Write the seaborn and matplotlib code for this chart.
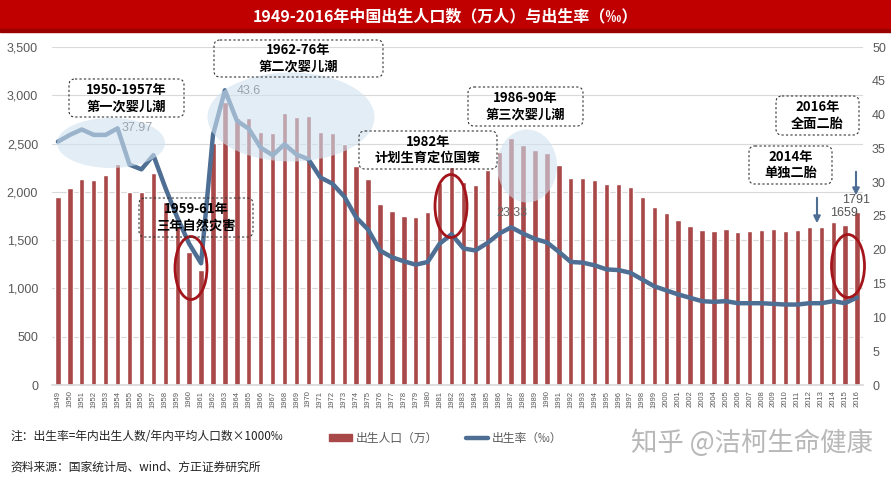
import numpy as np
import pandas as pd
import matplotlib
matplotlib.use("Agg")
import matplotlib.pyplot as plt
from matplotlib.patches import Ellipse, FancyBboxPatch, Rectangle, FancyArrowPatch
from matplotlib.transforms import Affine2D
from matplotlib.ticker import FuncFormatter
import seaborn as sns

# ---------------- data ----------------
years = list(range(1949, 2017))
births = [1950, 2043, 2130, 2123, 2175, 2285, 1998, 1998, 2195, 1900,
          1650, 1380, 1191, 2502, 2934, 2762, 2762, 2623, 2606, 2813,
          2772, 2786, 2616, 2606, 2495, 2268, 2137, 1874, 1805, 1750,
          1736, 1795, 2088, 2261, 2105, 2071, 2226, 2409, 2554, 2485,
          2433, 2406, 2278, 2140, 2147, 2123, 2078, 2078, 2050, 1950,
          1840, 1778, 1705, 1646, 1602, 1595, 1615, 1584, 1595, 1608,
          1612, 1595, 1605, 1636, 1636, 1688, 1659, 1791]
rates = [36.0, 37.0, 37.8, 37.0, 37.0, 37.97, 32.6, 31.9, 34.0, 29.2,
         24.8, 20.9, 18.0, 37.0, 43.6, 39.1, 37.9, 35.1, 34.0, 35.6,
         34.1, 33.4, 30.7, 29.8, 27.9, 24.8, 23.0, 19.9, 18.9, 18.3,
         17.8, 18.2, 20.9, 22.3, 20.2, 19.9, 21.0, 22.4, 23.33, 22.4,
         21.6, 21.1, 19.7, 18.2, 18.1, 17.7, 17.1, 17.0, 16.6, 15.6,
         14.6, 14.0, 13.4, 12.9, 12.4, 12.3, 12.4, 12.1, 12.1, 12.1,
         12.0, 11.9, 11.9, 12.1, 12.1, 12.4, 12.1, 12.95]
year_labels = [str(y) for y in years]
left_ticks = [0, 500, 1000, 1500, 2000, 2500, 3000, 3500]
right_ticks = [0, 5, 10, 15, 20, 25, 30, 35, 40, 45, 50]

title = "1949-2016年中国出生人口数（万人）与出生率（‰）"
bar_name = "出生人口（万）"
line_name = "出生率（‰）"
note = "注：出生率=年内出生人数/年内平均人口数×1000‰"
source = "资料来源：国家统计局、wind、方正证券研究所"
watermark = "知乎 @洁柯生命健康"

callouts = [
    ("1950-1957年\n第一次婴儿潮", (69, 79, 184, 117)),
    ("1962-76年\n第二次婴儿潮", (214, 40, 383, 77)),
    ("1959-61年\n三年自然灾害", (139, 198, 253, 237)),
    ("1982年\n计划生育定位国策", (359, 131, 497, 169)),
    ("1986-90年\n第三次婴儿潮", (468, 87, 583, 126)),
    ("2016年\n全面二胎", (776, 96, 859, 135)),
    ("2014年\n单独二胎", (749, 146, 832, 184)),
]

# ---------------- style ----------------
sns.set_theme(style="white")
plt.rcParams["font.family"] = ["Noto Sans CJK SC", "DejaVu Sans"]
plt.rcParams["axes.unicode_minus"] = False
NUMFONT = ["Liberation Sans", "DejaVu Sans"]

BAR = "#a94848"
LINE = "#4e6e94"
GRAY = "#595959"
W, H = 891, 484

fig = plt.figure(figsize=(W / 100, H / 100), dpi=100)
fig.patch.set_facecolor("white")

# pixel transform (origin top-left)
PX = Affine2D().scale(1 / W, -1 / H).translate(0, 1) + fig.transFigure

ax = fig.add_axes([52 / W, 1 - 385 / H, 811 / W, 338 / H])
df = pd.DataFrame({"year": year_labels, "births": births, "rate": rates})
sns.barplot(data=df, x="year", y="births", color=BAR, saturation=1,
            width=0.45, ax=ax, zorder=2)
ax.set_xlim(-0.5, len(years) - 0.5)
ax.set_ylim(0, 3500)
ax.set_yticks(left_ticks)
ax.yaxis.set_major_formatter(FuncFormatter(lambda v, p: f"{int(v):,}"))
ax.grid(axis="y", color="#d9d9d9", lw=0.8, zorder=0)
ax.set_axisbelow(True)
ax.tick_params(axis="y", labelsize=9, colors=GRAY, length=0, pad=10)
ax.tick_params(axis="x", labelsize=5.5, colors=GRAY, length=0, pad=4,
               labelrotation=90)
for lab in ax.get_yticklabels() + ax.get_xticklabels():
    lab.set_family(NUMFONT)
ax.set_xlabel("")
ax.set_ylabel("")
for s in ax.spines.values():
    s.set_visible(False)
ax.spines["bottom"].set_visible(True)
ax.spines["bottom"].set_color("#d9d9d9")

ax2 = ax.twinx()
sns.lineplot(x=np.arange(len(years)), y=rates, ax=ax2, color=LINE, lw=3.2,
             zorder=3)
ax2.set_ylim(0, 50)
ax2.set_yticks(right_ticks)
ax2.tick_params(axis="y", labelsize=9, colors=GRAY, length=0, pad=6.5)
for lab in ax2.get_yticklabels():
    lab.set_family(NUMFONT)
ax2.set_xlabel("")
ax2.set_ylabel("")
for s in ax2.spines.values():
    s.set_visible(False)

# ---------------- title bar ----------------
fig.add_artist(Rectangle((0, 0), W, 31, transform=PX, color="#c00000",
                         zorder=5))
fig.add_artist(Rectangle((0, 29), W, 3, transform=PX, color="#9a0000",
                         zorder=5))
fig.text(445 / W, 1 - 16 / H, title, color="white", fontsize=11.5,
         fontweight="bold", ha="center", va="center", zorder=6)

# ---------------- highlight ellipses ----------------
for (cx, cy, w, h) in [(111, 143, 108, 50), (291, 117, 167, 89),
                       (527, 166, 60, 73)]:
    fig.add_artist(Ellipse((cx, cy), w, h, transform=PX, facecolor="#cfe2f1",
                           edgecolor="none", alpha=0.6, zorder=3))
for (cx, cy, w, h) in [(191, 268, 32, 63), (451, 206, 32, 63),
                       (848, 266, 33, 63)]:
    fig.add_artist(Ellipse((cx, cy), w, h, transform=PX, facecolor="none",
                           edgecolor="#a3151b", lw=2, zorder=4))

# ---------------- callout boxes ----------------
for text, (x0, y0, x1, y1) in callouts:
    fig.add_artist(FancyBboxPatch((x0, y0), x1 - x0, y1 - y0,
                                  boxstyle="round,pad=0,rounding_size=6",
                                  transform=PX, facecolor="none",
                                  edgecolor="#333333", lw=0.8,
                                  linestyle=(0, (2, 2)), zorder=5))
    fig.text((x0 + x1) / 2 / W, 1 - (y0 + y1) / 2 / H, text, fontsize=9.5,
             fontweight="bold", color="black", ha="center", va="center",
             linespacing=1.2, zorder=6)

# arrows
for (x, ya, yb) in [(817, 195, 226), (856, 169, 198)]:
    fig.add_artist(FancyArrowPatch((x, ya), (x, yb), transform=PX,
                                   arrowstyle="-|>", mutation_scale=10,
                                   color=LINE, lw=1.5, zorder=5))

# value labels
for txt, (x, y), col in [("37.97", (137, 128), "#9aa3ad"),
                         ("43.6", (249, 91), "#9aa3ad"),
                         ("23.33", (512, 213), "#666666"),
                         ("1659", (844, 213), "#555555"),
                         ("1791", (856, 200), "#555555")]:
    fig.text(x / W, 1 - y / H, txt, fontsize=9, color=col, ha="center",
             va="center", zorder=6, family=NUMFONT)

# ---------------- legend & notes ----------------
handles = [plt.Rectangle((0, 0), 1, 1, color=BAR),
           plt.Line2D([0], [0], color=LINE, lw=3.2)]
fig.legend(handles, [bar_name, line_name], loc="center",
           bbox_to_anchor=(446 / W, 1 - 438 / H), ncol=2, frameon=False,
           fontsize=8.5, handlelength=1.9, handleheight=0.6,
           columnspacing=2.4, handletextpad=0.3, labelcolor=GRAY)

fig.text(10 / W, 1 - 437 / H, note, fontsize=8.5, color="#222222",
         ha="left", va="center", style="italic")
fig.text(10 / W, 1 - 467 / H, source, fontsize=8.5, color="#222222",
         ha="left", va="center", style="italic")
fig.text(752 / W, 1 - 443 / H, watermark, fontsize=19, color="#b8b8b8",
         ha="center", va="center", fontweight="light")

fig.savefig("out.png", dpi=100)
